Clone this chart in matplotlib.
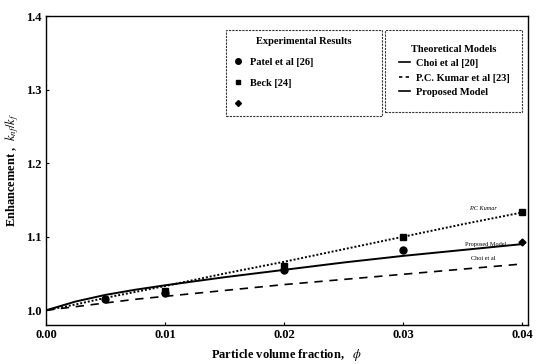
import matplotlib
matplotlib.use("Agg")
import matplotlib.pyplot as plt
from matplotlib.lines import Line2D
import numpy as np

plt.rcParams['font.family'] = ['Liberation Serif', 'DejaVu Serif']
plt.rcParams['mathtext.fontset'] = 'stix'

# Experimental data
patel_x = [0.005, 0.01, 0.02, 0.03]
patel_y = [1.015, 1.024, 1.055, 1.082]
beck_x = [0.01, 0.02, 0.03, 0.04]
beck_y = [1.026, 1.060, 1.100, 1.133]
third_x = [0.04]
third_y = [1.093]

# Model curves
model_x = [0.0, 0.0025, 0.005, 0.0075, 0.01, 0.015, 0.02, 0.025, 0.03, 0.035, 0.04]
proposed_y = [1.000, 1.012, 1.021, 1.028, 1.034, 1.045, 1.055, 1.065, 1.074, 1.082, 1.090]
kumar_y = [1.000, 1.008, 1.017, 1.025, 1.033, 1.050, 1.066, 1.083, 1.100, 1.117, 1.133]
choi_y = [1.000, 1.005, 1.010, 1.015, 1.019, 1.027, 1.035, 1.042, 1.049, 1.056, 1.063]

x_ticks = [0.00, 0.01, 0.02, 0.03, 0.04]
y_ticks = [1.0, 1.1, 1.2, 1.3, 1.4]

fig = plt.figure(figsize=(5.4, 3.64), dpi=100)
ax = fig.add_axes([0.085, 0.107, 0.893, 0.849])

ax.plot(model_x, proposed_y, color='black', lw=1.4, ls='-')
ax.plot(model_x, kumar_y, color='black', lw=1.4, ls=(0, (1, 1)))
ax.plot(model_x, choi_y, color='black', lw=1.2, ls=(0, (5, 4)))

ax.plot(patel_x, patel_y, 'o', color='black', ms=5)
ax.plot(beck_x, beck_y, 's', color='black', ms=4.5)
ax.plot(third_x, third_y, 'D', color='black', ms=3.5)

ax.text(0.0355, 1.137, 'P.C Kumar', fontsize=4.5, style='italic')
ax.text(0.0352, 1.087, 'Proposed Model', fontsize=4.5)
ax.text(0.0357, 1.068, 'Choi et al', fontsize=4.5)

ax.set_xlim(0.0, 0.0405)
ax.set_ylim(0.98, 1.4)
ax.set_xticks(x_ticks)
ax.set_xticklabels([f'{v:.2f}' for v in x_ticks], fontweight='bold', fontsize=9)
ax.set_yticks(y_ticks)
ax.set_yticklabels([f'{v:.1f}' for v in y_ticks], fontweight='bold', fontsize=9)
ax.tick_params(direction='in', length=2, width=0.8, pad=3)
for s in ax.spines.values():
    s.set_linewidth(1.0)
ax.spines['top'].set_linestyle((0, (2, 1)))
ax.spines['bottom'].set_linestyle((0, (2, 1)))

ax.set_xlabel(r'Particle volume fraction,   $\phi$', fontsize=9, fontweight='bold', labelpad=4)
ax.set_ylabel(r'Enhancement ,  $k_{nf}/k_f$', fontsize=9, fontweight='bold', labelpad=4)

h1 = [Line2D([], [], marker='o', color='black', ls='none', ms=4),
      Line2D([], [], marker='s', color='black', ls='none', ms=3.5),
      Line2D([], [], marker='D', color='black', ls='none', ms=3)]
leg1 = ax.legend(h1, ['Patel et al [26]', 'Beck [24]', ''],
                 title='Experimental Results', loc='upper left',
                 bbox_to_anchor=(0.373, 0.955, 0.324, 0.0), mode='expand',
                 fontsize=7.5, title_fontproperties={'size': 7.5, 'weight': 'bold'},
                 fancybox=False, edgecolor='black', handlelength=1.0,
                 labelspacing=1.1, borderaxespad=0, handletextpad=0.6,
                 borderpad=0.7)
leg1.get_frame().set_linestyle((0, (2, 1)))
leg1.get_frame().set_linewidth(0.8)
for t in leg1.get_texts():
    t.set_fontweight('bold')
ax.add_artist(leg1)

h2 = [Line2D([], [], color='black', ls='-', lw=1.2),
      Line2D([], [], color='black', ls=(0, (2, 2)), lw=1.2),
      Line2D([], [], color='black', ls='-', lw=1.2)]
leg2 = ax.legend(h2, ['Choi et al [20]', 'P.C. Kumar et al [23]', 'Proposed Model'],
                 title='Theoretical Models', loc='upper left',
                 bbox_to_anchor=(0.703, 0.955, 0.285, 0.0), mode='expand',
                 fontsize=7.5, title_fontproperties={'size': 7.5, 'weight': 'bold'},
                 fancybox=False, edgecolor='black', handlelength=1.0,
                 labelspacing=0.5, borderaxespad=0, handletextpad=0.6,
                 borderpad=1.4)
leg2.get_frame().set_linestyle((0, (2, 1)))
leg2.get_frame().set_linewidth(0.8)
for t in leg2.get_texts():
    t.set_fontweight('bold')

fig.savefig('out.png', dpi=100)
